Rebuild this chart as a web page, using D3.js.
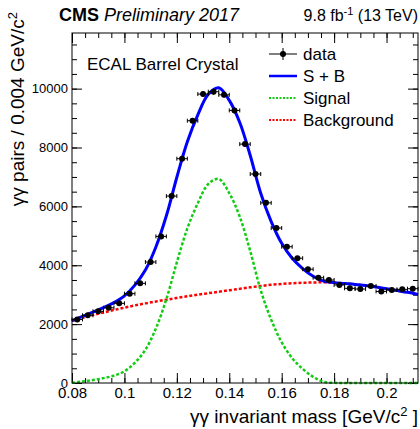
<!DOCTYPE html>
<html>
<head>
<meta charset="utf-8">
<script src="https://cdn.jsdelivr.net/npm/d3@7"></script>
<style>
  body { margin: 0; background: #fff; }
  svg { display: block; font-family: "Liberation Sans", Arial, Helvetica, sans-serif; }
</style>
</head>
<body>
<svg id="chart" width="420" height="429"></svg>
<script>
// bin centres (bin width 0.004) and counts
var binCenters = [0.082, 0.086, 0.090, 0.094, 0.098, 0.102, 0.106, 0.110, 0.114, 0.118,
                  0.122, 0.126, 0.130, 0.134, 0.138, 0.142, 0.146, 0.150, 0.154, 0.158,
                  0.162, 0.166, 0.170, 0.174, 0.178, 0.182, 0.186, 0.190, 0.194, 0.198,
                  0.202, 0.206, 0.210];
var counts = [2160, 2300, 2435, 2555, 2705, 3035, 3385, 4110, 4980, 6350,
              7620, 8910, 9815, 9895, 9790, 9260, 8115, 7100, 6120, 5265,
              4630, 4240, 3865, 3576, 3498, 3330, 3216, 3192, 3294, 3110,
              3158, 3181, 3203];

// fit curves sampled off the plot
var curveX = [0.080, 0.084, 0.088, 0.092, 0.096, 0.100, 0.104, 0.108, 0.112, 0.116,
              0.120, 0.124, 0.128, 0.132, 0.136, 0.140, 0.144, 0.148, 0.152, 0.156,
              0.160, 0.164, 0.168, 0.172, 0.176, 0.180, 0.184, 0.188, 0.192, 0.196,
              0.200, 0.204, 0.208, 0.212];
var signalFit = [10, 50, 100, 165, 250, 400, 690, 1130, 1850, 2850,
                 4100, 5250, 6110, 6760, 6930, 6450, 5650, 4480, 3150, 2150,
                 1380, 845, 480, 210, 40, 5, 0, 0, 0, 0,
                 0, 0, 0, 0];
var bkgFit = [2110, 2210, 2305, 2395, 2480, 2560, 2635, 2705, 2770, 2830,
              2890, 2945, 3000, 3050, 3100, 3150, 3200, 3250, 3295, 3335,
              3365, 3390, 3405, 3415, 3420, 3405, 3380, 3350, 3310, 3260,
              3200, 3140, 3080, 3010];

var xMajor = [0.08, 0.10, 0.12, 0.14, 0.16, 0.18, 0.20];
var xLabels = ["0.08", "0.1", "0.12", "0.14", "0.16", "0.18", "0.2"];
var yMajor = [0, 2000, 4000, 6000, 8000, 10000];

var svg = d3.select("#chart");
var padL = 72, padR = 418, padT = 33, padB = 383;

var x = d3.scaleLinear().domain([0.08, 0.212]).range([padL, padR]);
var y = d3.scaleLinear().domain([0, 11890]).range([padB, padT]);

var xMinor = d3.range(0, 27).map(function (i) { return 0.08 + i * 0.005; })
  .filter(function (v) { return v <= 0.212; });
var yMinor = d3.range(0, 24).map(function (i) { return i * 500; });

// axes, ticks pointing inwards
function noDomain(g) { g.select(".domain").remove(); }

svg.append("g").attr("transform", "translate(0," + padB + ")")
  .call(d3.axisBottom(x).tickValues(xMinor).tickSize(-5).tickFormat(""))
  .call(noDomain);
svg.append("g").attr("class", "xaxis").attr("transform", "translate(0," + padB + ")")
  .call(d3.axisBottom(x).tickValues(xMajor).tickSize(-10).tickPadding(4)
    .tickFormat(function (d, i) { return xLabels[i]; }))
  .call(noDomain);
svg.append("g").attr("transform", "translate(0," + padT + ")")
  .call(d3.axisTop(x).tickValues(xMinor).tickSize(-5).tickFormat(""))
  .call(noDomain);
svg.append("g").attr("transform", "translate(0," + padT + ")")
  .call(d3.axisTop(x).tickValues(xMajor).tickSize(-10).tickFormat(""))
  .call(noDomain);

svg.append("g").attr("transform", "translate(" + padL + ",0)")
  .call(d3.axisLeft(y).tickValues(yMinor).tickSize(-5).tickFormat(""))
  .call(noDomain);
svg.append("g").attr("class", "yaxis").attr("transform", "translate(" + padL + ",0)")
  .call(d3.axisLeft(y).tickValues(yMajor).tickSize(-10).tickPadding(4).tickFormat(d3.format("d")))
  .call(noDomain);
svg.append("g").attr("transform", "translate(" + padR + ",0)")
  .call(d3.axisRight(y).tickValues(yMinor).tickSize(-5).tickFormat(""))
  .call(noDomain);
svg.append("g").attr("transform", "translate(" + padR + ",0)")
  .call(d3.axisRight(y).tickValues(yMajor).tickSize(-10).tickFormat(""))
  .call(noDomain);

svg.selectAll(".tick line").attr("stroke", "#000").attr("stroke-width", 1);
svg.selectAll(".xaxis text").attr("font-size", 15).attr("fill", "#000")
  .attr("font-family", "Liberation Sans, Arial, sans-serif");
svg.selectAll(".yaxis text").attr("font-size", 13).attr("fill", "#000")
  .attr("font-family", "Liberation Sans, Arial, sans-serif");

// fit curves
var sigPts = curveX.map(function (v, i) { return [v, signalFit[i]]; });
var bkgPts = curveX.map(function (v, i) { return [v, bkgFit[i]]; });
var totPts = curveX.map(function (v, i) { return [v, signalFit[i] + bkgFit[i]]; });

var line = d3.line()
  .x(function (d) { return x(d[0]); })
  .y(function (d) { return y(d[1]); })
  .curve(d3.curveCatmullRom);

var plot = svg.append("g");
plot.append("path").datum(bkgPts).attr("d", line)
  .attr("fill", "none").attr("stroke", "#ff0000").attr("stroke-width", 2.5)
  .attr("stroke-dasharray", "3,2");
plot.append("path").datum(sigPts).attr("d", line)
  .attr("fill", "none").attr("stroke", "#11cc11").attr("stroke-width", 2.5)
  .attr("stroke-dasharray", "3,2");
plot.append("path").datum(totPts).attr("d", line)
  .attr("fill", "none").attr("stroke", "#0000ff").attr("stroke-width", 3);

// data points with error bars
var pts = plot.append("g").selectAll("g")
  .data(binCenters.map(function (v, i) { return { x: v, n: counts[i] }; }))
  .enter().append("g");

pts.append("line")
  .attr("x1", function (d) { return x(d.x - 0.002); })
  .attr("x2", function (d) { return x(d.x + 0.002); })
  .attr("y1", function (d) { return y(d.n); })
  .attr("y2", function (d) { return y(d.n); })
  .attr("stroke", "#000").attr("stroke-width", 1);
pts.append("line")
  .attr("x1", function (d) { return x(d.x); })
  .attr("x2", function (d) { return x(d.x); })
  .attr("y1", function (d) { return y(d.n - Math.sqrt(d.n)); })
  .attr("y2", function (d) { return y(d.n + Math.sqrt(d.n)); })
  .attr("stroke", "#000").attr("stroke-width", 1);
[-0.002, 0.002].forEach(function (off) {
  pts.append("line")
    .attr("x1", function (d) { return x(d.x + off); })
    .attr("x2", function (d) { return x(d.x + off); })
    .attr("y1", function (d) { return y(d.n) - 2; })
    .attr("y2", function (d) { return y(d.n) + 2; })
    .attr("stroke", "#000").attr("stroke-width", 1);
});
pts.append("circle")
  .attr("cx", function (d) { return x(d.x); })
  .attr("cy", function (d) { return y(d.n); })
  .attr("r", 3).attr("fill", "#000");

// frame
svg.append("rect").attr("x", padL).attr("y", padT)
  .attr("width", padR - padL).attr("height", padB - padT)
  .attr("fill", "none").attr("stroke", "#000").attr("stroke-width", 1);

// legend
var legend = svg.append("g").attr("font-size", 17);
var entries = ["data", "S + B", "Signal", "Background"];
entries.forEach(function (name, i) {
  var ly = 54 + i * 22;
  var row = legend.append("g");
  if (i == 0) {
    row.append("line").attr("x1", 269).attr("x2", 297).attr("y1", ly).attr("y2", ly)
      .attr("stroke", "#000");
    row.append("line").attr("x1", 283).attr("x2", 283).attr("y1", ly - 6).attr("y2", ly + 6)
      .attr("stroke", "#000");
    row.append("circle").attr("cx", 283).attr("cy", ly).attr("r", 3);
  } else {
    var col = ["#0000ff", "#11cc11", "#ff0000"][i - 1];
    row.append("line").attr("x1", 269).attr("x2", 297).attr("y1", ly).attr("y2", ly)
      .attr("stroke", col).attr("stroke-width", i == 1 ? 2.5 : 2)
      .attr("stroke-dasharray", i == 1 ? null : "2,1.5");
  }
  row.append("text").attr("x", 303).attr("y", ly).attr("dy", "0.35em").text(name);
});

svg.append("text").attr("x", 87).attr("y", 70).attr("font-size", 17)
  .text("ECAL Barrel Crystal");

// header
var head = svg.append("text").attr("x", 59).attr("y", 21).attr("font-size", 18);
head.append("tspan").attr("font-weight", "bold").text("CMS");
head.append("tspan").attr("font-style", "italic").attr("dx", 5).text("Preliminary 2017");

var lumi = svg.append("text").attr("x", 418).attr("y", 21).attr("font-size", 16)
  .attr("text-anchor", "end");
lumi.append("tspan").text("9.8 fb");
lumi.append("tspan").attr("font-size", 11).attr("dy", -6).text("-1");
lumi.append("tspan").attr("dy", 6).text(" (13 TeV)");

// axis titles
var xt = svg.append("text").attr("x", 418).attr("y", 423).attr("font-size", 19)
  .attr("text-anchor", "end");
xt.append("tspan").text("γγ invariant mass [GeV/c");
xt.append("tspan").attr("font-size", 13).attr("dy", -7).text("2");
xt.append("tspan").attr("dy", 7).text(" ]");

var yt = svg.append("text").attr("transform", "translate(24,12) rotate(-90)")
  .attr("font-size", 19).attr("text-anchor", "end");
yt.append("tspan").text("γγ pairs / 0.004 GeV/c");
yt.append("tspan").attr("font-size", 13).attr("dy", -7).text("2");
</script>
</body>
</html>
